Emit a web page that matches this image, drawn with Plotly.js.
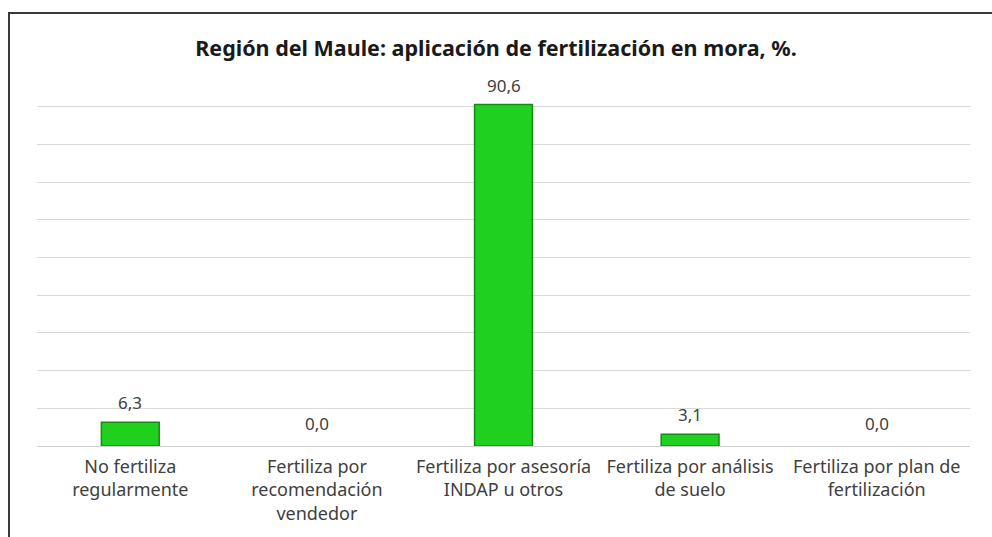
<!DOCTYPE html>
<html>
<head>
<meta charset="utf-8">
<script src="https://cdn.plot.ly/plotly-3.0.1.min.js"></script>
<style>
html,body{margin:0;padding:0;background:#fff;}
#chart{position:absolute;left:0;top:0;width:992px;height:537px;}
#frame{position:absolute;left:8px;top:12px;width:990px;height:530px;border-left:2px solid #3a3a3a;border-top:2px solid #3a3a3a;pointer-events:none;}
</style>
</head>
<body>
<div id="chart"></div>
<div id="frame"></div>
<script>
const categories = [
  "No fertiliza<br>regularmente",
  "Fertiliza por<br>recomendación<br>vendedor",
  "Fertiliza por asesoría<br>INDAP u otros",
  "Fertiliza por análisis<br>de suelo",
  "Fertiliza por plan de<br>fertilización"
];
const values = [6.3, 0.0, 90.6, 3.1, 0.0];
const valueLabels = values.map(v => v.toFixed(1).replace(".", ","));
const titleText = "Región del Maule: aplicación de fertilización en mora, %.";

const font = "'Noto Sans', 'DejaVu Sans', sans-serif";
const textColor = "#404040";

const trace = {
  type: "bar",
  x: categories,
  y: values,
  marker: {color: "#1fd01f", line: {color: "#148c14", width: values.map(v => v > 0 ? 1.5 : 0)}},
  hoverinfo: "skip"
};

const annotations = categories.map((c, i) => ({
  x: c, y: values[i], xref: "x", yref: "y",
  text: valueLabels[i], showarrow: false,
  yanchor: "bottom", yshift: values[i] === 0 ? 9 : 6,
  font: {family: font, size: 17, color: textColor}
}));

const layout = {
  width: 992, height: 537,
  margin: {l: 37, r: 22, t: 103, b: 91},
  paper_bgcolor: "#fff", plot_bgcolor: "#fff",
  title: {text: "<b>" + titleText + "</b>", x: 0.5, xanchor: "center", y: 0.91, yanchor: "middle",
          font: {family: font, size: 21.5, color: "#1a1a1a"}},
  bargap: 0.69,
  showlegend: false,
  xaxis: {
    tickfont: {family: font, size: 18, color: textColor},
    showgrid: false, zeroline: false, showline: false, ticks: "",
    ticklabelstandoff: 8,
    fixedrange: true
  },
  yaxis: {
    range: [0, 91], dtick: 10, showticklabels: false,
    showgrid: true, gridcolor: "#d9d9d9", gridwidth: 1,
    zeroline: true, zerolinecolor: "#d0d0d0", zerolinewidth: 1,
    showline: false, ticks: "", fixedrange: true
  },
  annotations: annotations
};

Plotly.newPlot("chart", [trace], layout, {displayModeBar: false, staticPlot: true});
</script>
</body>
</html>
